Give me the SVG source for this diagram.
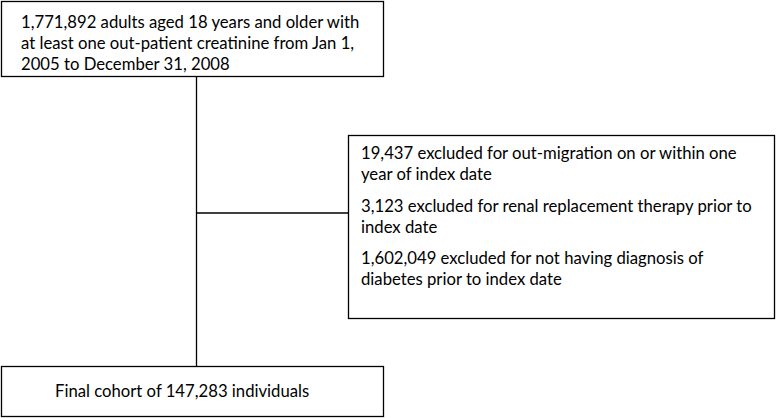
<svg xmlns="http://www.w3.org/2000/svg" width="776" height="418" viewBox="0 0 776 418">
<style>
.box{fill:#fff;stroke:#000;stroke-width:1.3}
.ln{stroke:#000;stroke-width:1.3;fill:none}
text{font-family:Lato,"Liberation Sans",sans-serif;font-size:16.7px;fill:#000}
</style>
<rect width="776" height="418" fill="#fff"/>
<g id="connectors">
<line class="ln" x1="196.5" y1="76" x2="196.5" y2="366"/>
<line class="ln" x1="196.5" y1="213" x2="348" y2="213"/>
</g>
<g id="n1">
<rect class="box" x="1.5" y="1.5" width="382" height="75"/>
<text x="21" y="28">1,771,892 adults aged 18 years and older with</text>
<text x="21" y="49">at least one out-patient creatinine from Jan 1,</text>
<text x="21" y="70">2005 to December 31, 2008</text>
</g>
<g id="n2">
<rect class="box" x="348.5" y="135.5" width="426" height="183"/>
<text x="361" y="159">19,437 excluded for out-migration on or within one</text>
<text x="361" y="180">year of index date</text>
<text x="361" y="212">3,123 excluded for renal replacement therapy prior to</text>
<text x="361" y="233">index date</text>
<text x="361" y="264">1,602,049 excluded for not having diagnosis of</text>
<text x="361" y="285">diabetes prior to index date</text>
</g>
<g id="n3">
<rect class="box" x="1.5" y="366.5" width="382" height="50"/>
<text x="55" y="397">Final cohort of 147,283 individuals</text>
</g>
</svg>
